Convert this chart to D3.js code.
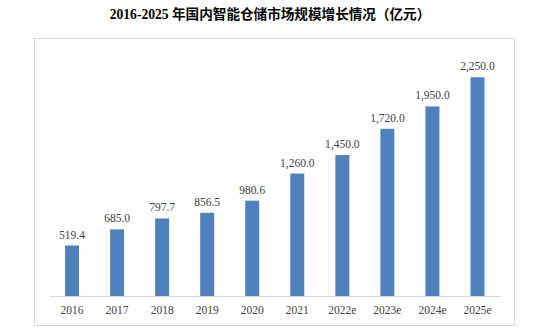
<!DOCTYPE html>
<html>
<head>
<meta charset="utf-8">
<script src="https://cdn.jsdelivr.net/npm/d3@7"></script>
<style>
  html, body { margin: 0; padding: 0; background: #fff; }
  svg { display: block; }
</style>
</head>
<body>
<svg id="chart" width="542" height="335"></svg>
<script>
// Market size by year (100 million yuan); "e" marks estimates
const years = ["2016", "2017", "2018", "2019", "2020", "2021", "2022e", "2023e", "2024e", "2025e"];
const values = [519.4, 685.0, 797.7, 856.5, 980.6, 1260.0, 1450.0, 1720.0, 1950.0, 2250.0];
const titleLatin = "2016-2025 ";
const titleCJK = "年国内智能仓储市场规模增长情况（亿元）";

const svg = d3.select("#chart");
const W = 542, H = 335;
const serif = "'Liberation Serif', 'Times New Roman', serif";

// outer frame
svg.append("rect")
  .attr("x", 34.5).attr("y", 38.5)
  .attr("width", 480).attr("height", 287)
  .attr("fill", "#fff").attr("stroke", "#d9d9d9").attr("stroke-width", 1);

// title
const title = svg.append("text")
  .attr("x", W / 2 - 1).attr("y", 19)
  .attr("text-anchor", "middle")
  .attr("font-weight", "bold")
  .attr("font-size", 13.6)
  .attr("fill", "#000");
title.append("tspan").attr("font-family", serif).text(titleLatin);
title.append("tspan").attr("font-family", "'Noto Sans CJK SC', sans-serif").text(titleCJK);

const x = d3.scaleBand()
  .domain(years)
  .range([49.5, 500])
  .paddingInner(0.69)
  .paddingOuter(0.345);

const y = d3.scaleLinear()
  .domain([0, 2500])
  .range([296, 53]);

const data = years.map((yr, i) => ({ year: yr, value: values[i] }));

// bars
svg.append("g").selectAll("rect")
  .data(data)
  .join("rect")
  .attr("x", d => x(d.year))
  .attr("y", d => y(d.value))
  .attr("width", x.bandwidth())
  .attr("height", d => y(0) - y(d.value))
  .attr("fill", "#4f81bd");

// value labels
const fmt = d3.format(",.1f");
svg.append("g").selectAll("text")
  .data(data)
  .join("text")
  .attr("x", d => x(d.year) + x.bandwidth() / 2)
  .attr("y", d => y(d.value) - 7)
  .attr("text-anchor", "middle")
  .attr("font-family", serif)
  .attr("font-size", 11.5)
  .attr("fill", "#404040")
  .text(d => fmt(d.value));

// category axis
const xAxis = svg.append("g")
  .attr("transform", `translate(0,${y(0)})`)
  .call(d3.axisBottom(x).tickSize(0).tickPadding(10));
xAxis.select(".domain").attr("stroke", "#d9d9d9").attr("stroke-width", 1.2);
xAxis.selectAll("text")
  .attr("font-family", serif)
  .attr("font-size", 11.5)
  .attr("fill", "#404040");
</script>
</body>
</html>
